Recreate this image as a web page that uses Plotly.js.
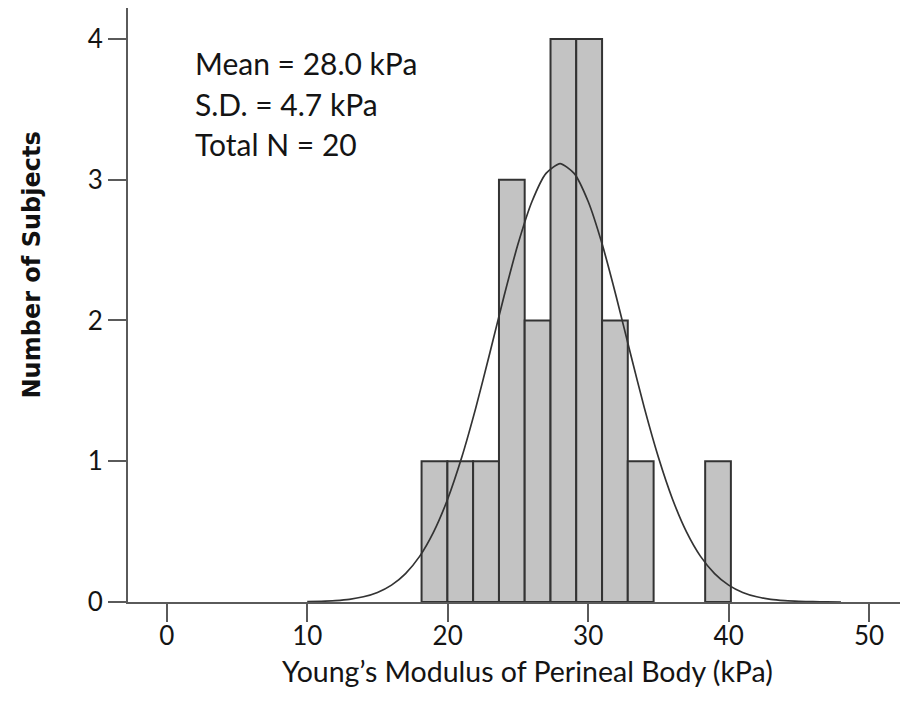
<!DOCTYPE html>
<html>
<head>
<meta charset="utf-8">
<script src="https://cdn.plot.ly/plotly-3.0.1.min.js"></script>
<style>html,body{margin:0;padding:0;background:#fff;}#chart{width:900px;height:715px;}</style>
</head>
<body>
<div id="chart"></div>
<script>
// Histogram bin edges (kPa) and counts per bin
var binEdges = [18.14, 19.98, 21.81, 23.65, 25.48, 27.32, 29.15, 30.99, 32.82, 34.66, 36.49, 38.33, 40.16];
var binCounts = [1, 1, 1, 3, 2, 4, 4, 2, 1, 0, 0, 1];

// Fitted normal curve
var curveX = [10, 11, 12, 13, 14, 15, 16, 17, 18, 19, 20, 21, 22, 23, 24, 25, 26, 27, 28,
              29, 30, 31, 32, 33, 34, 35, 36, 37, 38, 39, 40, 41, 42, 43, 44, 45, 46, 47, 48];
var curveY = [0.002, 0.005, 0.010, 0.019, 0.037, 0.068, 0.120, 0.202, 0.324, 0.498, 0.732, 1.028, 1.379, 1.769, 2.169, 2.541, 2.845, 3.045, 3.115,
              3.045, 2.845, 2.541, 2.169, 1.769, 1.379, 1.028, 0.732, 0.498, 0.324, 0.202, 0.120, 0.068, 0.037, 0.019, 0.010, 0.005, 0.002, 0.001, 0.000];

var xTicks = [0, 10, 20, 30, 40, 50];
var yTicks = [0, 1, 2, 3, 4];
var statLines = ["Mean = 28.0 kPa", "S.D. = 4.7 kPa", "Total N = 20"];
var xTitle = "Young\u2019s Modulus of Perineal Body (kPa)";
var yTitle = "Number of Subjects";

var centers = [], widths = [], cnts = [];
for (var i = 0; i < binCounts.length; i++) {
  if (binCounts[i] > 0) {
    centers.push((binEdges[i] + binEdges[i + 1]) / 2);
    widths.push(binEdges[i + 1] - binEdges[i]);
    cnts.push(binCounts[i]);
  }
}

var font = "Lato, 'Open Sans', sans-serif";
var axisCol = "#5a5a5a";
var txtCol = "#141414";

var traces = [
  {
    type: "bar", x: centers, y: cnts, width: widths,
    marker: {color: "#c3c3c3", line: {color: "#333333", width: 2}},
    hoverinfo: "skip", showlegend: false
  },
  {
    type: "scatter", mode: "lines", x: curveX, y: curveY,
    line: {color: "#333333", width: 1.7, shape: "spline", smoothing: 0.6},
    hoverinfo: "skip", showlegend: false
  }
];

var ann = [];
var statY = [0.907, 0.838, 0.771];
for (var k = 0; k < statLines.length; k++) {
  ann.push({text: statLines[k], xref: "paper", yref: "paper", x: 0.084, y: statY[k],
    xanchor: "left", yanchor: "middle", showarrow: false,
    font: {family: font, size: 30, color: txtCol}});
}
ann.push({text: xTitle, xref: "paper", yref: "paper", x: 0.517, y: -0.116,
  xanchor: "center", yanchor: "middle", showarrow: false,
  font: {family: font, size: 28.5, color: txtCol}});
ann.push({text: "<b>" + yTitle + "</b>", xref: "paper", yref: "paper", x: -0.124, y: 0.567,
  xanchor: "center", yanchor: "middle", showarrow: false, textangle: -90,
  font: {family: "'DejaVu Sans', 'Liberation Sans', sans-serif", size: 24, color: "#111"}});

var layout = {
  width: 900, height: 715,
  margin: {l: 128, r: 0, t: 8, b: 113},
  paper_bgcolor: "#fff", plot_bgcolor: "#fff",
  bargap: 0,
  xaxis: {
    range: [-2.76, 52.2], tickvals: xTicks, ticktext: xTicks.map(String),
    ticks: "outside", ticklen: 18, tickwidth: 2, tickcolor: axisCol,
    ticklabelstandoff: -8,
    showline: true, linecolor: axisCol, linewidth: 2,
    showgrid: false, zeroline: false,
    tickfont: {family: font, size: 26, color: txtCol}
  },
  yaxis: {
    range: [0, 4.22], tickvals: yTicks, ticktext: yTicks.map(String),
    ticks: "outside", ticklen: 18, tickwidth: 2, tickcolor: axisCol,
    showline: true, linecolor: axisCol, linewidth: 2,
    showgrid: false, zeroline: false,
    tickfont: {family: font, size: 26, color: txtCol}
  },
  annotations: ann
};

Plotly.newPlot("chart", traces, layout, {staticPlot: true, displayModeBar: false});
</script>
</body>
</html>
